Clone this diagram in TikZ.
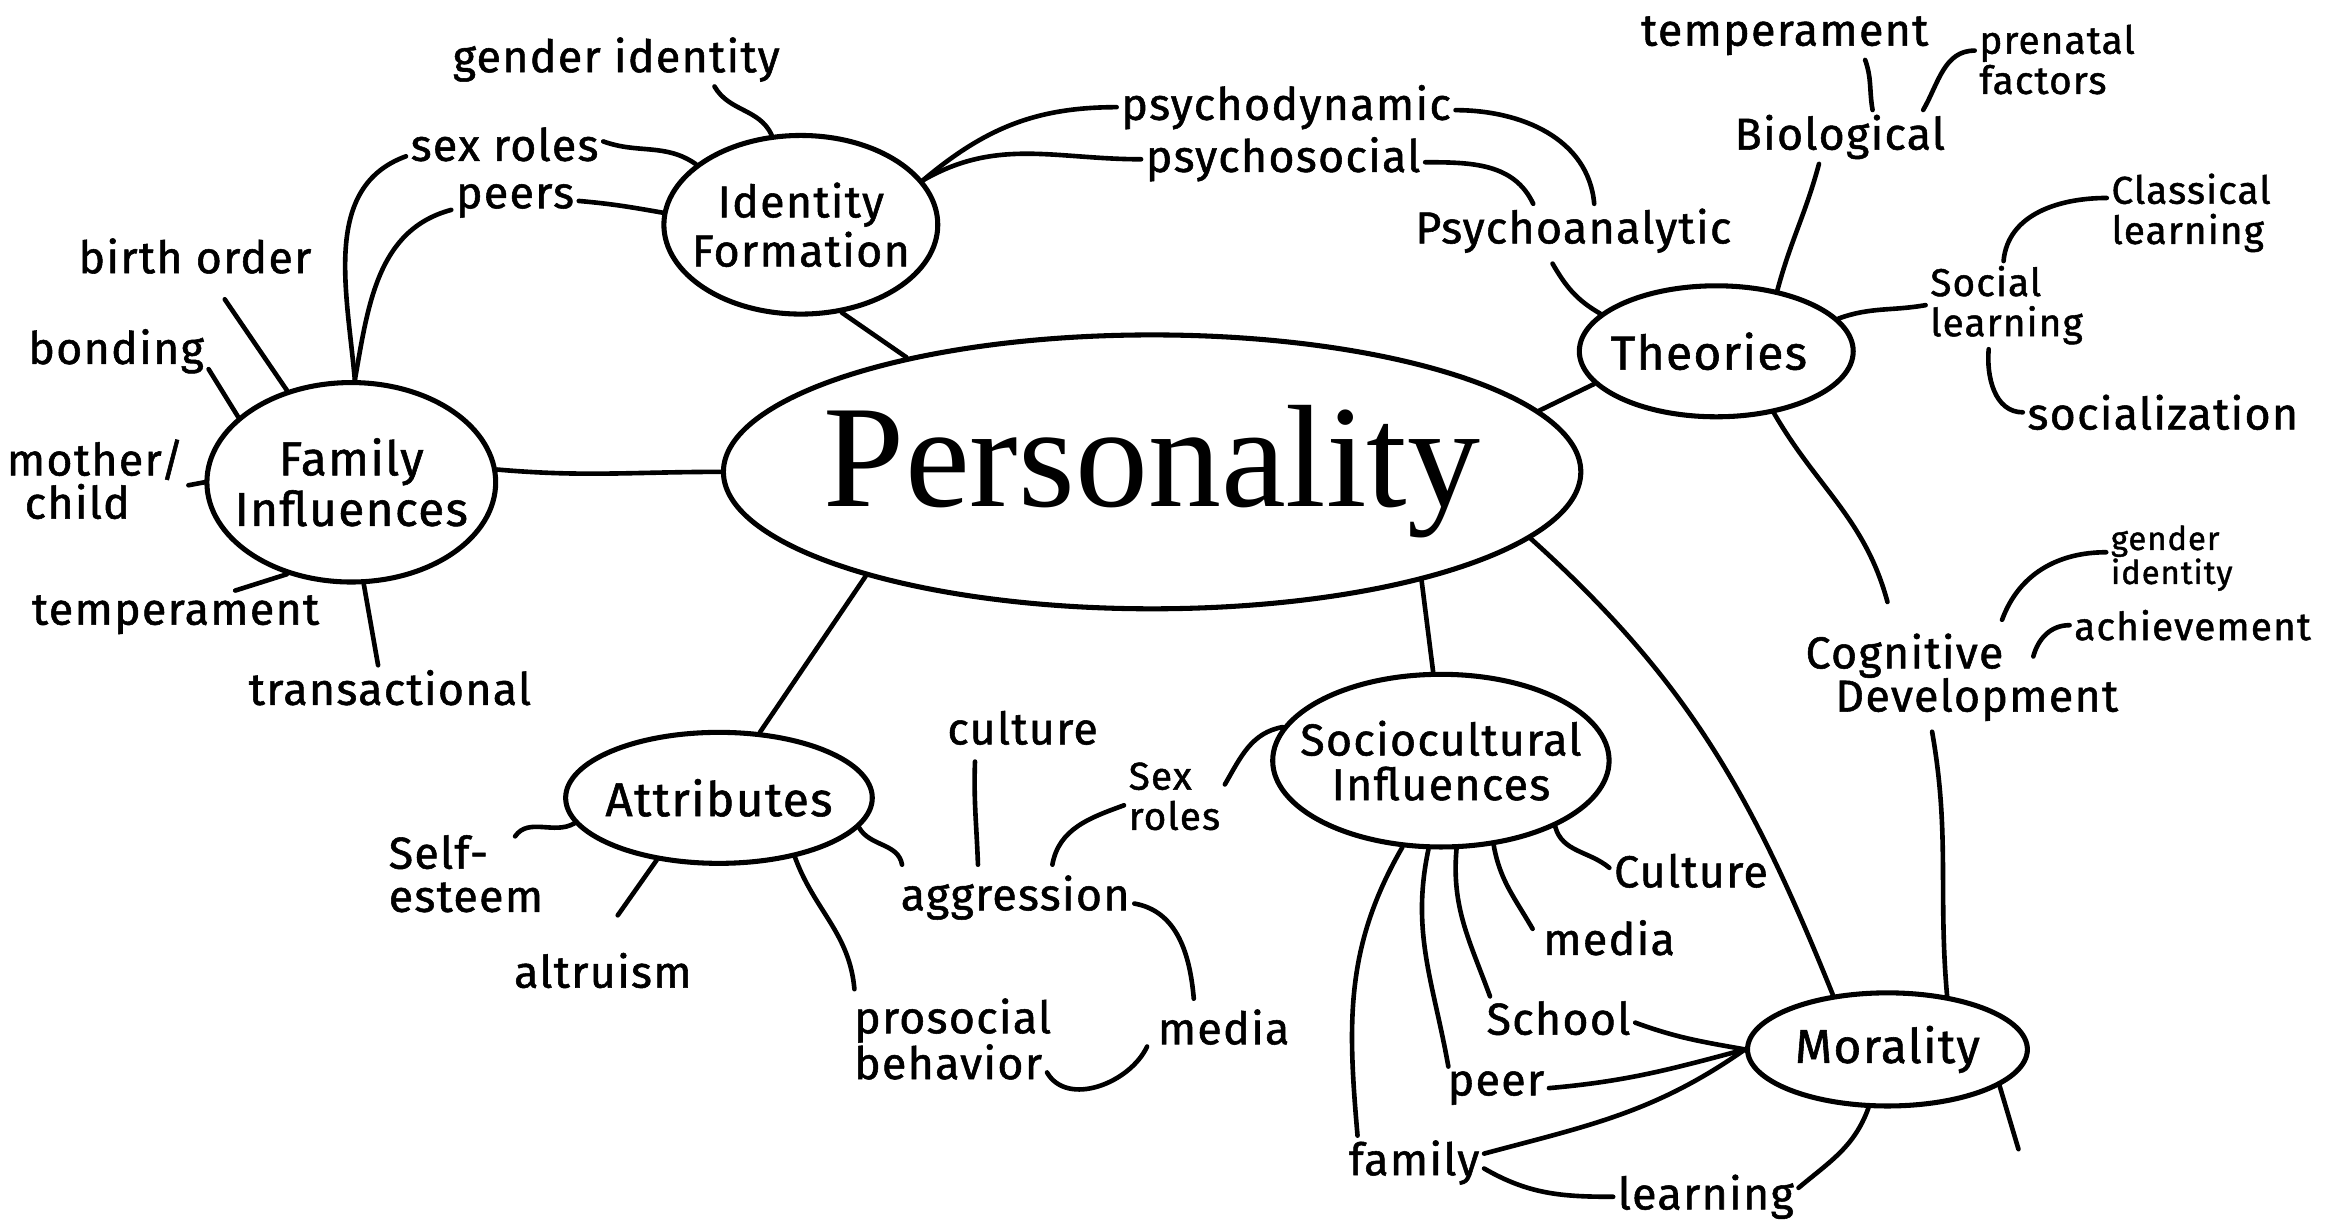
\documentclass[tikz,border=0pt]{standalone}
\usepackage{fontspec}
\setmainfont{Fira Sans}[LetterSpace=3.0, FakeBold=1.2]
\newfontfamily\persfont{Liberation Serif}
\usetikzlibrary{shapes.geometric}

\begin{document}
\begin{tikzpicture}[x=1pt,y=1pt,
  lab/.style={font=\fontsize{30}{29}\selectfont, inner sep=3pt, align=center},
  sml/.style={font=\fontsize{26}{27}\selectfont, inner sep=3pt, align=left},
  topic/.style={ellipse, draw, line width=3.4pt, inner sep=0pt},
  tlab/.style={font=\fontsize{32}{34}\selectfont, align=center},
  link/.style={line width=3.1pt, line cap=round}]

\useasboundingbox (0,0) rectangle (1568,-827);
\fill[white] (0,0) rectangle (1568,-827);

% central topic and sub-topics
\node[topic, line width=3.4pt, minimum width=576pt, minimum height=184pt,
  label={[font=\persfont\fontsize{98}{100}\selectfont]center:Personality}] (pers) at (774,-317) {};
\node[topic, minimum width=184pt, minimum height=120pt,
  label={[tlab, font=\fontsize{30}{33}\selectfont]center:Identity\\Formation}] (idf) at (538,-151) {};
\node[topic, minimum width=194pt, minimum height=134pt,
  label={[tlab]center:Family\\Influences}] (fam) at (236,-324) {};
\node[topic, minimum width=184pt, minimum height=88pt,
  label={[tlab, xshift=-5pt]center:Theories}] (theo) at (1153,-236) {};
\node[topic, minimum width=206pt, minimum height=88pt,
  label={[tlab]center:Attributes}] (attr) at (483,-536) {};
\node[topic, minimum width=226pt, minimum height=116pt,
  label={[tlab, font=\fontsize{30}{30}\selectfont]center:Sociocultural\\Influences}] (soc) at (968,-511) {};
\node[topic, minimum width=188pt, minimum height=76pt,
  label={[tlab]center:Morality}] (mor) at (1268,-705) {};

% leaf labels
\node[lab] (gid1) at (414,-40) {gender identity};
\node[lab] (sexr) at (339,-97) {sex roles};
\node[lab] (peers) at (346,-135) {peers};
\node[lab] (birth) at (131,-172) {birth order};
\node[lab] (bond) at (78,-236) {bonding};
\node[lab, align=left] (moch) at (64,-322) {mother/\\\hspace*{12pt}child};
\node[lab] (temp1) at (118,-413) {temperament};
\node[lab] (trans) at (262,-462) {transactional};
\node[lab] (pdyn) at (864,-72) {psychodynamic};
\node[lab] (psoc) at (862,-107) {psychosocial};
\node[lab] (pana) at (1057,-155) {Psychoanalytic};
\node[lab] (temp2) at (1199,-24) {temperament};
\node[sml] (pren) at (1382,-40) {prenatal\\factors};
\node[lab] (bio) at (1236,-92) {Biological};
\node[sml] (class) at (1472,-143) {Classical\\learning};
\node[sml] (socl) at (1348,-205) {Social\\learning};
\node[lab] (sociz) at (1453,-277) {socialization};
\node[sml, font=\fontsize{22}{19}\selectfont] (gid2) at (1459,-375) {gender\\identity};
\node[sml] (ach) at (1473,-420) {achievement};
\node[lab, align=left] (cog) at (1318,-455) {Cognitive\\\hspace*{20pt}Development};
\node[lab] (cult1) at (687,-489) {culture};
\node[sml] (sexr2) at (789,-535) {Sex\\roles};
\node[lab] (aggr) at (682,-603) {aggression};
\node[lab, align=left] (self) at (313,-587) {Self-\\esteem};
\node[lab] (altr) at (405,-652) {altruism};
\node[lab, align=left] (pros) at (640,-698) {prosocial\\behavior};
\node[lab] (med1) at (822,-690) {media};
\node[lab] (cult2) at (1136,-585) {Culture};
\node[lab] (med2) at (1081,-630) {media};
\node[lab] (school) at (1047,-684) {School};
\node[lab] (peer) at (1005,-731) {peer};
\node[lab] (fam2) at (950,-781) {family};
\node[lab] (learn) at (1146,-804) {learning};

% family influences
\draw[link] (fam.5) to[out=-5,in=180] (pers.180);
\draw[link] ([xshift=20pt,yshift=-14pt]birth.south) -- (fam.125);
\draw[link] ([yshift=-12pt]bond.east) -- (fam.150);
\draw[link] ([yshift=-4pt]moch.east) -- (fam.180);
\draw[link] ([xshift=40pt]temp1.north) -- (fam.235);
\draw[link] ([xshift=-8pt]trans.north) -- (fam.277);
\draw[link] ([yshift=-8pt]sexr.west) to[out=200,in=95] (fam.88);
\draw[link] ([yshift=-6pt]peers.west) to[out=195,in=80] (fam.88);

% identity formation
\draw[link] (idf.295) -- (pers.155);
\draw[link] ([xshift=66pt]gid1.south) to[out=-60,in=115] (idf.108);
\draw[link] ([yshift=2pt]sexr.east) to[out=-20,in=145] (idf.150);
\draw[link] (peers.east) to[out=-5,in=170] (idf.175);
\draw[link] (pdyn.west) to[out=180,in=40] (idf.20);
\draw[link] (psoc.west) to[out=180,in=30] (idf.20);

% theories
\draw[link] (theo.195) -- (pers.9);
\draw[link] ([xshift=-14pt,yshift=-4pt]pana.south) to[out=-60,in=150] (theo.162);
\draw[link] ([yshift=-2pt]pdyn.east) to[out=0,in=95] ([xshift=14pt]pana.north);
\draw[link] ([yshift=-2pt]psoc.east) to[out=0,in=115] ([xshift=-27pt]pana.north);
\draw[link] ([xshift=-14pt]bio.south) to[out=-105,in=75] (theo.45);
\draw[link] ([xshift=54pt]temp2.south) to[out=-70,in=100] ([xshift=22pt]bio.north);
\draw[link] ([yshift=6pt]pren.west) to[out=180,in=60] ([xshift=56pt]bio.north);
\draw[link] (socl.west) to[out=190,in=20] (theo.15);
\draw[link] ([yshift=10pt]class.west) to[out=180,in=85] ([xshift=-2pt]socl.north);
\draw[link] ([xshift=-12pt]socl.south) to[out=-95,in=180] (sociz.west);
\draw[link] (theo.313) to[out=-60,in=105] ([xshift=-50pt,yshift=18pt]cog.north);

% cognitive development
\draw[link] ([yshift=4pt]gid2.west) to[out=180,in=70] ([xshift=27pt,yshift=6pt]cog.north);
\draw[link] (ach.west) to[out=180,in=75] ([xshift=48pt,yshift=14pt]cog.center);
\draw[link] ([xshift=-20pt,yshift=-4pt]cog.south) to[out=-80,in=95] (mor.42);

% morality
\draw[link] (pers.-10) to[out=-42,in=112] (mor.135);
\draw[link] ([yshift=-3pt]school.east) to[out=-20,in=170] (mor.180);
\draw[link] (peer.east) to[out=5,in=195] (mor.180);
\draw[link] ([yshift=6pt]fam2.east) to[out=15,in=215] (mor.180);
\draw[link] ([yshift=-4pt]fam2.east) to[out=-30,in=180] (learn.west);
\draw[link] ([yshift=6pt]learn.east) to[out=40,in=250] (mor.252);
\coordinate (mortail) at (1356,-772);
\draw[link] (mor.-18) -- (mortail);

% sociocultural influences
\draw[link] (pers.-22) -- (soc.95);
\draw[link] ([yshift=8pt]sexr2.east) to[out=60,in=190] (soc.168);
\draw[link] (soc.246) to[out=240,in=95] ([xshift=-38pt]fam2.north);
\draw[link] (soc.262) to[out=258,in=100] ([xshift=-32pt]peer.north);
\draw[link] (soc.280) to[out=265,in=110] ([xshift=-46pt]school.north);
\draw[link] (soc.302) to[out=280,in=120] ([xshift=-4pt,yshift=6pt]med2.west);
\draw[link] (soc.330) to[out=285,in=140] ([yshift=2pt]cult2.west);

% attributes
\draw[link] (pers.200) -- (attr.58);
\draw[link] ([xshift=-22pt,yshift=-4pt]self.north east) to[out=55,in=210] (attr.190);
\draw[link] ([xshift=10pt,yshift=22pt]altr.north) -- (attr.225);
\draw[link] ([xshift=-66pt,yshift=3pt]pros.north) to[out=95,in=-70] (attr.-38);
\draw[link] ([xshift=-76pt,yshift=4pt]aggr.north) to[out=100,in=-60] (attr.-12);
\draw[link] ([xshift=-32pt,yshift=-8pt]cult1.south) to[out=-92,in=92] ([xshift=-25pt,yshift=4pt]aggr.north);
\draw[link] ([yshift=-6pt]sexr2.west) to[out=200,in=80] ([xshift=25pt,yshift=4pt]aggr.north);
\draw[link] ([yshift=-4pt]aggr.east) to[out=-10,in=95] ([xshift=-20pt,yshift=4pt]med1.north);
\draw[link] ([xshift=-6pt,yshift=8pt]pros.south east) to[out=-60,in=-115] ([xshift=-4pt,yshift=2pt]med1.south west);
\end{tikzpicture}
\end{document}
